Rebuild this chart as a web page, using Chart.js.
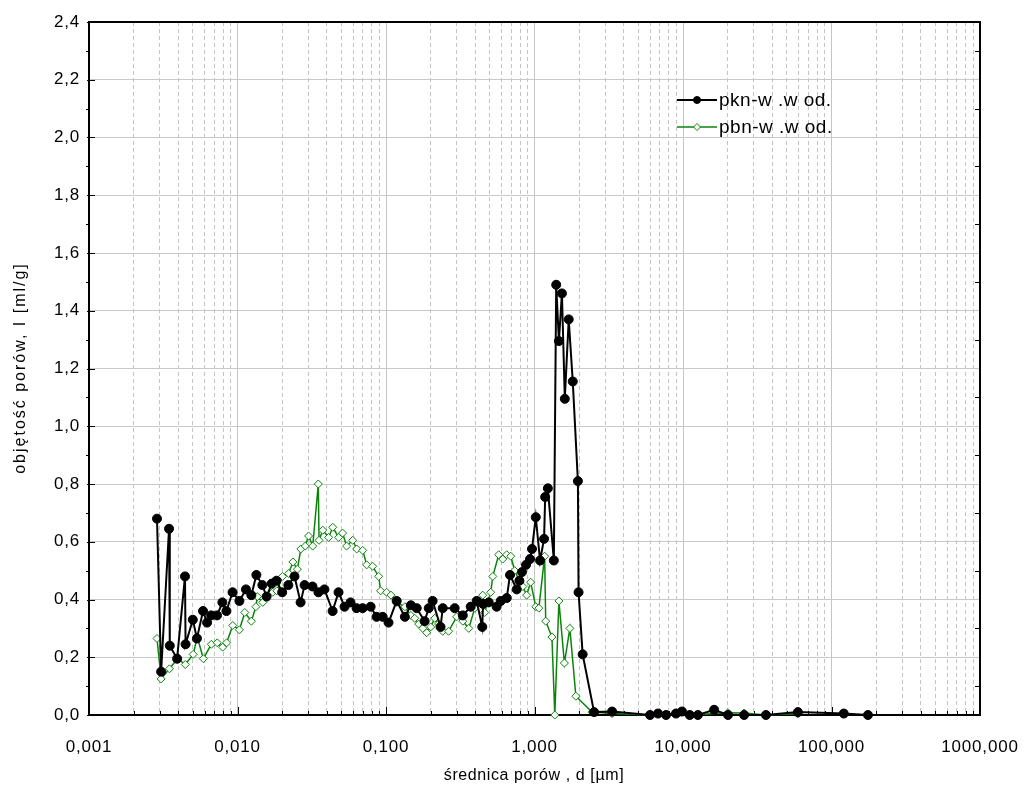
<!DOCTYPE html>
<html>
<head>
<meta charset="utf-8">
<script src="https://cdn.jsdelivr.net/npm/chart.js@4/dist/chart.umd.min.js"></script>
<style>
  html, body { margin: 0; padding: 0; background: #ffffff; }
  #wrap { width: 1027px; height: 794px; }
</style>
</head>
<body>
<div id="wrap"><canvas id="c" width="1027" height="794"></canvas></div>
<script>
// Pore diameter d [µm] and pore volume [ml/g] for sample pkn-w.wod.
const pknDiameter = [
  0.00287, 0.00306, 0.00346, 0.00350, 0.00392, 0.00443, 0.00447, 0.00500, 0.00533, 0.00586,
  0.00624, 0.00665, 0.00728, 0.00791, 0.00842, 0.00926, 0.0103, 0.0114, 0.0124, 0.0134,
  0.0147, 0.0157, 0.0170, 0.0183, 0.0200, 0.0220, 0.0242, 0.0266, 0.0283, 0.0320,
  0.0351, 0.0385, 0.0437, 0.0479, 0.0526, 0.0577, 0.0634, 0.0696, 0.0788, 0.0864,
  0.0950, 0.104, 0.118, 0.134, 0.147, 0.161, 0.182, 0.194, 0.206, 0.233,
  0.241, 0.290, 0.329, 0.372, 0.408, 0.445, 0.450, 0.492, 0.556, 0.592,
  0.650, 0.684, 0.759, 0.791, 0.824, 0.877, 0.933, 0.962, 1.02, 1.09,
  1.16, 1.18, 1.23, 1.35, 1.40, 1.46, 1.53, 1.60, 1.70, 1.81,
  1.96, 1.98, 2.11, 2.52, 3.33, 6.00, 6.79, 7.69, 8.97, 9.84,
  11.1, 12.6, 16.2, 20.1, 25.8, 36.2, 59.4, 121, 176
];
const pknVolume = [
  0.68, 0.15, 0.645, 0.24, 0.195, 0.48, 0.245, 0.33, 0.265, 0.36,
  0.32, 0.345, 0.345, 0.39, 0.36, 0.425, 0.395, 0.435, 0.415, 0.485,
  0.45, 0.41, 0.455, 0.465, 0.425, 0.45, 0.48, 0.39, 0.45, 0.445,
  0.425, 0.435, 0.36, 0.425, 0.375, 0.39, 0.37, 0.37, 0.375, 0.34,
  0.34, 0.32, 0.395, 0.34, 0.38, 0.37, 0.325, 0.37, 0.395, 0.305,
  0.37, 0.37, 0.345, 0.375, 0.395, 0.305, 0.385, 0.39, 0.375, 0.395,
  0.405, 0.485, 0.435, 0.465, 0.495, 0.52, 0.54, 0.575, 0.685, 0.535,
  0.61, 0.755, 0.785, 0.535, 1.49, 1.295, 1.46, 1.095, 1.37, 1.155,
  0.81, 0.425, 0.21, 0.01, 0.012, 0.0, 0.005, 0.0, 0.005, 0.012,
  0.0, 0.0, 0.018, 0.0, 0.0, 0.0, 0.01, 0.005, 0.0
];

// Pore diameter d [µm] and pore volume [ml/g] for sample pbn-w.wod.
const pbnDiameter = [
  0.00287, 0.00306, 0.00348, 0.00394, 0.00445, 0.00503, 0.00536, 0.00589, 0.00667, 0.00731,
  0.00794, 0.00845, 0.00929, 0.0103, 0.0112, 0.0124, 0.0133, 0.0136, 0.0148, 0.0173,
  0.0184, 0.0201, 0.0221, 0.0236, 0.0253, 0.0267, 0.0286, 0.0301, 0.0321, 0.0350,
  0.0354, 0.0375, 0.0411, 0.0438, 0.0480, 0.0510, 0.0543, 0.0597, 0.0635, 0.0697,
  0.0741, 0.0813, 0.0893, 0.0920, 0.101, 0.108, 0.118, 0.134, 0.147, 0.156,
  0.166, 0.177, 0.188, 0.200, 0.213, 0.226, 0.241, 0.264, 0.299, 0.329,
  0.361, 0.396, 0.448, 0.462, 0.507, 0.524, 0.574, 0.611, 0.650, 0.692,
  0.736, 0.798, 0.834, 0.885, 0.942, 1.02, 1.07, 1.17, 1.19, 1.31,
  1.37, 1.46, 1.59, 1.73, 1.90, 2.44, 3.33, 6.00, 8.97, 11.1,
  20.1, 25.8, 36.2, 59.4
];
const pbnVolume = [
  0.265, 0.125, 0.16, 0.195, 0.175, 0.21, 0.27, 0.195, 0.245, 0.25,
  0.235, 0.25, 0.31, 0.295, 0.355, 0.325, 0.375, 0.41, 0.39, 0.425,
  0.43, 0.48, 0.49, 0.53, 0.505, 0.575, 0.585, 0.62, 0.585, 0.80,
  0.605, 0.64, 0.615, 0.65, 0.615, 0.63, 0.585, 0.605, 0.575, 0.57,
  0.52, 0.515, 0.48, 0.43, 0.425, 0.415, 0.39, 0.375, 0.345, 0.335,
  0.315, 0.30, 0.285, 0.305, 0.335, 0.315, 0.29, 0.29, 0.34, 0.325,
  0.30, 0.37, 0.415, 0.355, 0.425, 0.48, 0.555, 0.54, 0.555, 0.55,
  0.50, 0.46, 0.445, 0.415, 0.46, 0.375, 0.37, 0.55, 0.325, 0.27,
  0.0, 0.395, 0.18, 0.30, 0.065, 0.01, 0.005, 0.0, 0.006, 0.0,
  0.008, 0.007, 0.0, 0.004
];

// Axis ticks
const xDecades = [0.001, 0.01, 0.1, 1, 10, 100, 1000];
const xTickLabels = ['0,001', '0,010', '0,100', '1,000', '10,000', '100,000', '1000,000'];
const yMin = 0, yMax = 2.4, yStep = 0.2;

const seriesNames = ['pkn-w .w od.', 'pbn-w .w od.'];
const xTitle = 'średnica porów , d [µm]';
const yTitle = 'objętość porów, I [ml/g]';

const FONT = '"Liberation Sans", Arial, sans-serif';
const GREEN = '#0b840b';

function toPoints(xs, ys) {
  return xs.map((x, i) => ({ x: x, y: ys[i] }));
}
function isDecade(v) {
  const l = Math.log10(v);
  return Math.abs(l - Math.round(l)) < 1e-9;
}

Chart.defaults.font.family = FONT;
Chart.defaults.font.size = 17;
Chart.defaults.color = '#000000';

// Frame, tick marks, legend and axis titles
const decorations = {
  id: 'decorations',
  beforeDraw(chart) {
    chart.ctx.letterSpacing = '0.8px';
  },
  beforeDatasetsDraw(chart) {
    const { ctx, chartArea: a, scales } = chart;
    const xs = scales.x, ys = scales.y;
    ctx.save();
    ctx.strokeStyle = '#000';
    ctx.lineWidth = 1;
    // bottom axis ticks (pointing into the plot)
    xs.ticks.forEach(t => {
      const px = Math.round(xs.getPixelForValue(t.value)) + 0.5;
      const len = isDecade(t.value) ? 8 : 4;
      ctx.beginPath();
      ctx.moveTo(px, a.bottom);
      ctx.lineTo(px, a.bottom - len);
      ctx.stroke();
    });
    // left / right axis ticks every 0.1
    for (let k = 0; k <= 24; k++) {
      const v = k / 10;
      const py = Math.round(ys.getPixelForValue(v)) + 0.5;
      ctx.beginPath();
      if (k % 2 === 0) {
        ctx.moveTo(a.left - 2, py);
        ctx.lineTo(a.left + 6, py);
      } else {
        ctx.moveTo(a.left - 3, py);
        ctx.lineTo(a.left + 1, py);
        ctx.moveTo(a.right, py);
        ctx.lineTo(a.right - 5, py);
      }
      ctx.stroke();
    }
    // plot frame
    ctx.lineWidth = 2;
    ctx.strokeRect(a.left, a.top, a.right - a.left, a.bottom - a.top);
    ctx.restore();
  },
  afterDraw(chart) {
    const { ctx } = chart;
    ctx.save();
    ctx.fillStyle = '#000';
    // axis titles
    ctx.font = '16px ' + FONT;
    ctx.letterSpacing = '0.6px';
    ctx.textAlign = 'center';
    ctx.textBaseline = 'middle';
    ctx.fillText(xTitle, 534, 776);
    ctx.translate(21, 368);
    ctx.rotate(-Math.PI / 2);
    ctx.letterSpacing = '2px';
    ctx.fillText(yTitle, 0, 0);
    ctx.restore();

    // legend
    ctx.save();
    const rows = [100, 127];
    chart.data.datasets.forEach((ds, i) => {
      const y = rows[i];
      ctx.strokeStyle = ds.borderColor;
      ctx.lineWidth = ds.borderWidth;
      ctx.beginPath();
      ctx.moveTo(677, y);
      ctx.lineTo(717, y);
      ctx.stroke();
      ctx.fillStyle = ds.pointBackgroundColor;
      ctx.strokeStyle = ds.pointBorderColor;
      ctx.lineWidth = 1;
      ctx.beginPath();
      if (ds.pointStyle === 'circle') {
        ctx.arc(697, y, 3.5, 0, Math.PI * 2);
      } else {
        ctx.moveTo(697, y - 3.5); ctx.lineTo(700.5, y); ctx.lineTo(697, y + 3.5); ctx.lineTo(693.5, y); ctx.closePath();
      }
      ctx.fill();
      ctx.stroke();
      ctx.fillStyle = '#000';
      ctx.font = '19px ' + FONT;
      ctx.letterSpacing = '0.5px';
      ctx.textAlign = 'left';
      ctx.textBaseline = 'middle';
      ctx.fillText(seriesNames[i], 719, y + 1);
    });
    ctx.restore();
  }
};

new Chart(document.getElementById('c'), {
  type: 'scatter',
  data: {
    datasets: [
      {
        label: seriesNames[0],
        data: toPoints(pknDiameter, pknVolume),
        showLine: true,
        borderColor: '#000000',
        borderWidth: 2,
        pointStyle: 'circle',
        pointRadius: 4.5,
        pointBackgroundColor: '#000000',
        pointBorderColor: '#000000',
        pointBorderWidth: 1,
        clip: false
      },
      {
        label: seriesNames[1],
        data: toPoints(pbnDiameter, pbnVolume),
        showLine: true,
        borderColor: GREEN,
        borderWidth: 1.5,
        pointStyle: 'rectRot',
        pointRadius: 4,
        pointBackgroundColor: '#ffffff',
        pointBorderColor: GREEN,
        pointBorderWidth: 1,
        clip: false
      }
    ]
  },
  options: {
    responsive: false,
    animation: false,
    events: [],
    layout: { padding: { top: 22, right: 47, left: 0, bottom: 0 } },
    plugins: {
      legend: { display: false },
      tooltip: { enabled: false }
    },
    scales: {
      x: {
        type: 'logarithmic',
        min: 0.001,
        max: 1000,
        afterFit(scale) {
          scale.height = 79;
          // end labels may overhang the plot; the page margins leave room for them
          scale.paddingLeft = 0;
          scale.paddingRight = 0;
        },
        afterBuildTicks(scale) {
          const ticks = [];
          xDecades.forEach(d => {
            if (d === 1000) { ticks.push({ value: d }); return; }
            for (let m = 1; m <= 9; m++) ticks.push({ value: +(d * m).toPrecision(6) });
          });
          scale.ticks = ticks;
        },
        ticks: {
          autoSkip: false,
          maxRotation: 0,
          minRotation: 0,
          padding: 22,
          callback(value) {
            const idx = xDecades.findIndex(d => Math.abs(d - value) / d < 1e-6);
            return idx >= 0 ? xTickLabels[idx] : '';
          }
        },
        grid: {
          drawTicks: false,
          color: '#c4c4c4',
          lineWidth: 1
        },
        border: {
          display: false,
          dash(ctx) { return ctx.tick && isDecade(ctx.tick.value) ? [] : [4, 3]; }
        }
      },
      y: {
        type: 'linear',
        min: yMin,
        max: yMax,
        afterFit(scale) { scale.width = 89; },
        ticks: {
          stepSize: yStep,
          padding: 9,
          callback(value) { return value.toFixed(1).replace('.', ','); }
        },
        grid: {
          drawTicks: false,
          color: '#c8c8c8',
          lineWidth: 1
        },
        border: { display: false }
      }
    }
  },
  plugins: [decorations]
});
</script>
</body>
</html>
